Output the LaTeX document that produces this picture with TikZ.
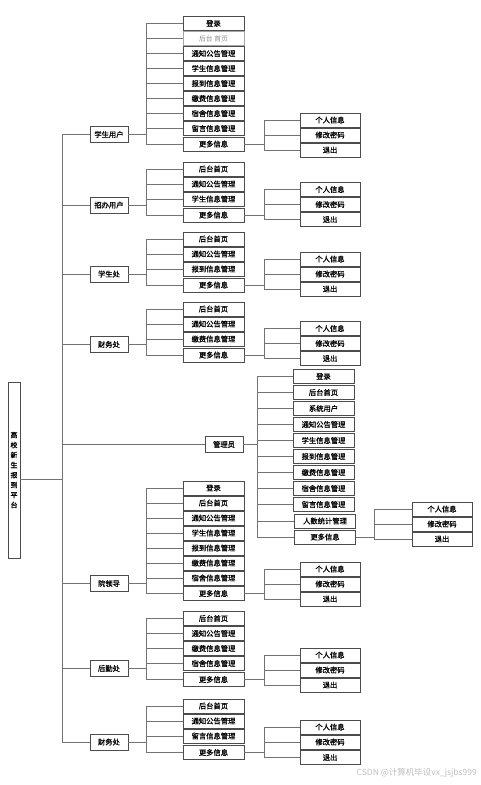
\documentclass[tikz,border=0pt]{standalone}
\usepackage{fontspec}
\newfontfamily\cjk[FakeBold=0.8]{Noto Sans CJK SC}
\newfontfamily\cjkw{Noto Sans CJK SC}
\definecolor{boxc}{gray}{0.3}
\definecolor{linec}{gray}{0.45}
\begin{document}
\begin{tikzpicture}[x=1pt,y=-1pt,
  item/.style={draw=boxc, line width=0.9pt, fill=white, minimum width=61pt, minimum height=14pt, inner sep=0pt, font=\cjk\fontsize{7.3}{7.5}\selectfont},
  role/.style={item, minimum width=38pt, minimum height=16pt},
  sub/.style={item, minimum width=60pt},
  link/.style={draw=linec, line width=0.9pt}]
\useasboundingbox (0,0) rectangle (480,785);
% root
\node[draw=boxc, line width=0.9pt, minimum width=12pt, minimum height=176pt, inner sep=0pt, align=center, font=\cjk\fontsize{7}{10}\selectfont] (root) at (14,470) {高\\校\\新\\生\\报\\到\\平\\台};
% roles
\node[role] (su) at (109,134.5) {学生用户};
\node[role] (zb) at (109,205) {招办用户};
\node[role] (xs) at (109,274) {学生处};
\node[role] (cw) at (109,344.5) {财务处};
\node[role] (gl) at (224,444.5) {管理员};
\node[role] (yl) at (109,583.5) {院领导};
\node[role] (hq) at (109,668.5) {后勤处};
\node[role] (cx) at (109,742) {财务处};
% 学生用户
\node[item] (su1) at (213.5,23.5) {登录};
\node[item, draw=boxc!50, text=black!45, font=\cjkw\fontsize{6.8}{7}\selectfont] (su2) at (213.5,38.5) {后台 首页};
\node[item] (su3) at (213.5,53.5) {通知公告管理};
\node[item] (su4) at (213.5,68.5) {学生信息管理};
\node[item] (su5) at (213.5,83.5) {报到信息管理};
\node[item] (su6) at (213.5,98.5) {缴费信息管理};
\node[item] (su7) at (213.5,113.5) {宿舍信息管理};
\node[item] (su8) at (213.5,128.5) {留言信息管理};
\node[item] (su9) at (213.5,144) {更多信息};
\node[sub] (sup1) at (330,120) {个人信息};
\node[sub] (sup2) at (330,135) {修改密码};
\node[sub] (sup3) at (330,150) {退出};
% 招办用户
\node[item] (zb1) at (213.5,169) {后台首页};
\node[item] (zb2) at (213.5,184) {通知公告管理};
\node[item] (zb3) at (213.5,199) {学生信息管理};
\node[item] (zb4) at (213.5,215) {更多信息};
\node[sub] (zbp1) at (330,189.5) {个人信息};
\node[sub] (zbp2) at (330,204.5) {修改密码};
\node[sub] (zbp3) at (330,219.5) {退出};
% 学生处
\node[item] (xs1) at (213.5,239) {后台首页};
\node[item] (xs2) at (213.5,254) {通知公告管理};
\node[item] (xs3) at (213.5,269) {报到信息管理};
\node[item] (xs4) at (213.5,285) {更多信息};
\node[sub] (xsp1) at (330,259) {个人信息};
\node[sub] (xsp2) at (330,274) {修改密码};
\node[sub] (xsp3) at (330,289) {退出};
% 财务处
\node[item] (cw1) at (213.5,309) {后台首页};
\node[item] (cw2) at (213.5,324) {通知公告管理};
\node[item] (cw3) at (213.5,339) {缴费信息管理};
\node[item] (cw4) at (213.5,355) {更多信息};
\node[sub] (cwp1) at (330,328.5) {个人信息};
\node[sub] (cwp2) at (330,343.5) {修改密码};
\node[sub] (cwp3) at (330,358.5) {退出};
% 管理员
\node[item] (gl1) at (323.5,376.5) {登录};
\node[item] (gl2) at (323.5,392.5) {后台首页};
\node[item] (gl3) at (323.5,408.5) {系统用户};
\node[item] (gl4) at (323.5,424.5) {通知公告管理};
\node[item] (gl5) at (323.5,440.5) {学生信息管理};
\node[item] (gl6) at (323.5,456.5) {报到信息管理};
\node[item] (gl7) at (323.5,472.5) {缴费信息管理};
\node[item] (gl8) at (323.5,488.5) {宿舍信息管理};
\node[item] (gl9) at (323.5,504.5) {留言信息管理};
\node[item] (gl10) at (325,521) {人数统计管理};
\node[item] (gl11) at (325,537) {更多信息};
\node[sub] (glp1) at (442,509) {个人信息};
\node[sub] (glp2) at (442,524) {修改密码};
\node[sub] (glp3) at (442,539) {退出};
% 院领导
\node[item] (yl1) at (213.5,488) {登录};
\node[item] (yl2) at (213.5,503) {后台首页};
\node[item] (yl3) at (213.5,518) {通知公告管理};
\node[item] (yl4) at (213.5,533) {学生信息管理};
\node[item] (yl5) at (213.5,548) {报到信息管理};
\node[item] (yl6) at (213.5,563) {缴费信息管理};
\node[item] (yl7) at (213.5,578) {宿舍信息管理};
\node[item] (yl8) at (213.5,593.5) {更多信息};
\node[sub] (ylp1) at (330,569) {个人信息};
\node[sub] (ylp2) at (330,584) {修改密码};
\node[sub] (ylp3) at (330,599) {退出};
% 后勤处
\node[item] (hq1) at (213.5,618.5) {后台首页};
\node[item] (hq2) at (213.5,633.5) {通知公告管理};
\node[item] (hq3) at (213.5,648.5) {缴费信息管理};
\node[item] (hq4) at (213.5,663.5) {宿舍信息管理};
\node[item] (hq5) at (213.5,679.5) {更多信息};
\node[sub] (hqp1) at (330,655) {个人信息};
\node[sub] (hqp2) at (330,670) {修改密码};
\node[sub] (hqp3) at (330,685) {退出};
% 财务处 (2)
\node[item] (cx1) at (213.5,706) {后台首页};
\node[item] (cx2) at (213.5,721) {通知公告管理};
\node[item] (cx3) at (213.5,736) {留言信息管理};
\node[item] (cx4) at (213.5,752.5) {更多信息};
\node[sub] (cxp1) at (330,727) {个人信息};
\node[sub] (cxp2) at (330,742) {修改密码};
\node[sub] (cxp3) at (330,757.5) {退出};
% connectors
\foreach \r in {su,zb,xs,cw,gl,yl,hq,cx}
  \draw[link] ([yshift=-9pt]root.east) -- ++(42,0) |- (\r.west);
\foreach \i in {1,...,9} \draw[link] (su.east) -- ++(18,0) |- (su\i.west);
\foreach \i in {1,...,4} \draw[link] (zb.east) -- ++(18,0) |- (zb\i.west);
\foreach \i in {1,...,4} \draw[link] (xs.east) -- ++(18,0) |- (xs\i.west);
\foreach \i in {1,...,4} \draw[link] (cw.east) -- ++(18,0) |- (cw\i.west);
\foreach \i in {1,...,11} \draw[link] (gl.east) -- ++(14,0) |- (gl\i.west);
\foreach \i in {1,...,8} \draw[link] (yl.east) -- ++(18,0) |- (yl\i.west);
\foreach \i in {1,...,5} \draw[link] (hq.east) -- ++(18,0) |- (hq\i.west);
\foreach \i in {1,...,4} \draw[link] (cx.east) -- ++(18,0) |- (cx\i.west);
\foreach \i in {1,2,3} {
  \draw[link] (su9.east) -- ++(20,0) |- (sup\i.west);
  \draw[link] (zb4.east) -- ++(20,0) |- (zbp\i.west);
  \draw[link] (xs4.east) -- ++(20,0) |- (xsp\i.west);
  \draw[link] (cw4.east) -- ++(20,0) |- (cwp\i.west);
  \draw[link] (gl11.east) -- ++(18,0) |- (glp\i.west);
  \draw[link] (yl8.east) -- ++(20,0) |- (ylp\i.west);
  \draw[link] (hq5.east) -- ++(20,0) |- (hqp\i.west);
  \draw[link] (cx4.east) -- ++(20,0) |- (cxp\i.west);
}
% watermark
\node[anchor=east, text=black!25, inner sep=0pt, font=\cjkw\fontsize{8.5}{9}\selectfont] (wm) at (477,773) {CSDN @计算机毕设vx\_jsjbs999};
\end{tikzpicture}
\end{document}
